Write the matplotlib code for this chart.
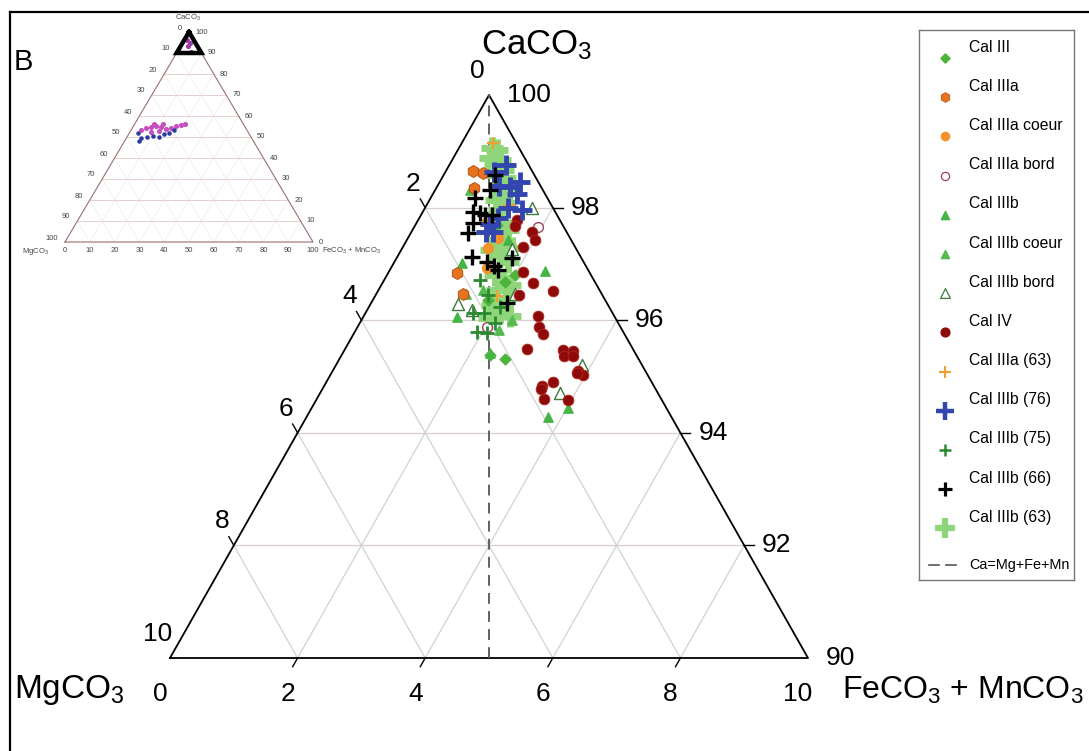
import matplotlib
matplotlib.use('Agg')
import matplotlib.pyplot as plt
import numpy as np

plt.rcParams['font.family'] = ['Liberation Sans', 'DejaVu Sans']
plt.rcParams['mathtext.fontset'] = 'custom'
plt.rcParams['mathtext.rm'] = 'Liberation Sans'
plt.rcParams['mathtext.it'] = 'Liberation Sans:italic'

# --- data: CaCO3 (%) and FeCO3+MnCO3 (%) for each group, MgCO3 is the rest ---
cal3_ca = [95.31, 95.38, 96.68, 96.80, 97.69, 96.36]
cal3_fe = [2.60, 2.33, 1.91, 2.01, 1.28, 1.80]

cal3a_ca = [98.65, 98.61, 98.35, 96.84, 96.47]
cal3a_fe = [0.42, 0.60, 0.59, 1.08, 1.36]

cal3a_coeur_ca = [97.46, 97.28, 96.93, 97.75]
cal3a_coeur_fe = [1.41, 1.34, 1.50, 1.10]

cal3a_bord_ca = [97.66, 95.88]
cal3a_bord_fe = [1.94, 2.03]

cal3b_ca = [97.02, 96.87, 96.06, 95.42, 97.42, 94.28, 94.44]
cal3b_fe = [1.07, 2.44, 1.47, 2.31, 1.59, 3.78, 4.02]

cal3b_coeur_ca = [98.31, 96.00, 95.83, 96.54, 96.47]
cal3b_coeur_fe = [0.55, 2.36, 2.24, 1.64, 1.40]

cal3b_bord_ca = [97.99, 97.27, 96.29, 96.18, 96.47, 95.20, 94.71]
cal3b_bord_fe = [1.68, 1.73, 1.37, 1.64, 2.17, 3.86, 3.76]

cal4_ca = [97.78, 97.67, 97.57, 97.42, 97.30, 96.86, 96.66, 96.52, 96.45, 96.08,
           95.88, 95.76, 95.49, 95.47, 95.45, 95.36, 95.36, 95.10, 95.03, 95.06,
           94.83, 94.90, 94.78, 94.60, 94.58]
cal4_fe = [1.55, 1.57, 1.89, 2.01, 1.88, 2.10, 2.36, 2.74, 2.25, 2.73,
           2.84, 2.97, 2.85, 3.42, 3.59, 3.49, 3.63, 3.85, 3.96, 3.85,
           3.41, 3.55, 3.42, 3.56, 3.95]

cal3a_63_ca = [99.15, 98.05, 96.43]
cal3a_63_fe = [0.49, 1.29, 1.91]

cal3b_76_ca = [98.63, 98.76, 98.37, 98.45, 98.24, 97.96, 97.99, 97.82, 97.71, 97.57, 97.57, 98.38]
cal3b_76_fe = [0.76, 0.89, 1.15, 1.26, 1.32, 1.54, 1.30, 1.23, 1.16, 1.17, 1.28, 0.97]

cal3b_75_ca = [96.71, 96.13, 96.13, 95.95, 95.79, 95.77, 96.23, 96.45]
cal3b_75_fe = [1.50, 1.68, 1.86, 2.12, 1.92, 2.08, 2.06, 1.76]

cal3b_66_ca = [98.17, 98.31, 97.92, 97.90, 97.87, 97.87, 97.73, 97.55, 97.12, 97.03,
               96.96, 96.89, 97.10, 96.31, 98.58]
cal3b_66_fe = [0.70, 0.86, 0.79, 0.91, 1.00, 1.11, 0.88, 0.90, 1.17, 1.45,
               1.60, 1.70, 1.81, 2.13, 0.80]

cal3b_63_ca = [99.06, 99.02, 98.88, 98.85, 98.76, 98.67, 98.58, 98.53, 98.40, 98.31,
               98.21, 98.13, 98.08, 97.96, 97.75, 97.69, 97.60, 97.42, 97.34, 97.25,
               97.28, 97.16, 97.03, 96.80, 96.71, 96.63, 96.54, 96.39, 96.27, 96.15,
               96.08, 96.04]
cal3b_63_fe = [0.52, 0.61, 0.58, 0.75, 0.71, 0.88, 0.84, 0.99, 0.97, 1.13,
               1.10, 1.04, 1.21, 1.18, 1.18, 1.37, 1.50, 1.43, 1.58, 1.41,
               1.72, 1.59, 1.78, 1.69, 1.86, 2.01, 1.86, 2.07, 1.91, 2.10,
               2.29, 1.98]

# small overview diagram (full 0-100 ternary)
ov_pink_ca = [53.3, 54.3, 54.8, 55.3, 54.8, 52.4, 52.9, 53.8, 54.3, 55.3, 55.7, 56.2, 56.2, 56.2]
ov_pink_fe = [3.9, 5.5, 7.3, 9.1, 11.3, 8.5, 11.5, 13.8, 15.5, 17.2, 18.9, 20.3, 7.8, 11.4]
ov_blue_ca = [51.9, 49.5, 50.0, 50.5, 50.0, 51.4, 51.9, 53.3, 48.1]
ov_blue_fe = [3.4, 5.9, 8.1, 10.3, 12.9, 14.2, 15.9, 17.3, 5.7]
ov_top_ca = [96.2, 94.8, 93.3, 90.5]
ov_top_fe = [1.1, 3.0, 2.9, 5.6]

main_ticks = [0, 2, 4, 6, 8, 10]
ov_ticks = list(range(0, 101, 10))


def tern(ca, fe):
    # zoomed ternary: CaCO3 90-100 at the apex
    t = (np.asarray(ca) - 90) / 10.0
    f = np.asarray(fe) / 10.0
    return f + t / 2, t


def tern_full(ca, fe):
    t = np.asarray(ca) / 100.0
    f = np.asarray(fe) / 100.0
    return f + t / 2, t


W, H = 1089, 751
fig = plt.figure(figsize=(W / 100, H / 100), dpi=100)
fig.patch.set_facecolor('white')


def ftext(x, y, s, **kw):
    fig.text(x / W, 1 - y / H, s, **kw)


# frame of the panel
fig.add_artist(plt.Line2D([10 / W, 10 / W], [0, 1 - 12 / H], color='black', lw=1.6, transform=fig.transFigure))
fig.add_artist(plt.Line2D([10 / W, 1], [1 - 12 / H, 1 - 12 / H], color='black', lw=1.6, transform=fig.transFigure))
ftext(14, 62, 'B', fontsize=21, va='center', ha='left')

# ---------------- main ternary ----------------
PX0, PY0, PW, PH = 170, 95, 638, 563
ax = fig.add_axes([PX0 / W, 1 - (PY0 + PH) / H, PW / W, PH / H])
ax.set_xlim(0, 1)
ax.set_ylim(0, 1)
ax.axis('off')

gcol = '#d2d2d2'
for v in [2, 4, 6, 8]:
    x, y = tern([100 - v, 100 - v], [0, v])
    ax.plot(x, y, color='#d8cdcd', lw=0.9, zorder=1)
    x, y = tern([90, 100 - v], [v, v])
    ax.plot(x, y, color=gcol, lw=0.9, zorder=1)
    x, y = tern([100 - v, 90], [0, 10 - v])
    ax.plot(x, y, color=gcol, lw=0.9, zorder=1)

ax.plot([0, 0.5, 1, 0], [0, 1, 0, 0], color='black', lw=1.3, zorder=2, clip_on=False)
ax.plot([0.5, 0.5], [0, 1], color='#555555', lw=1.3, ls=(0, (6, 4)), zorder=2)

tl = 10.0
tfs = 19
for m in main_ticks:
    # left side: MgCO3
    x, y = tern(100 - m, 0)
    if 0 < m < 10:
        ax.plot([x, x - 0.493 * tl / PW], [y, y + 0.870 * tl / PH], color='black', lw=1.0, clip_on=False)
    ax.text(x - 12 / PW, y + 24 / PH, str(m), fontsize=tfs, ha='center', va='center')
    # bottom: FeCO3 + MnCO3
    x, y = tern(90, m)
    if 0 < m < 10:
        ax.plot([x, x - 0.493 * tl / PW], [y, y - 0.870 * tl / PH], color='black', lw=1.0, clip_on=False)
    ax.text(x - 10 / PW, y - 36 / PH, str(m), fontsize=tfs, ha='center', va='center')
    # right side: CaCO3
    x, y = tern(100 - m, m)
    if 0 < m < 10:
        ax.plot([x, x + tl / PW], [y, y], color='black', lw=1.0, clip_on=False)
    ax.text(x + 18 / PW, y, str(100 - m), fontsize=tfs, ha='left', va='center')

# data
ax.scatter(*tern(cal3b_63_ca, cal3b_63_fe), marker='+', s=230, color='#8fd67a', linewidths=5, zorder=3)
ax.scatter(*tern(cal3_ca, cal3_fe), marker='D', s=30, color='#4fb43c', zorder=4)
ax.scatter(*tern(cal3b_ca, cal3b_fe), marker='^', s=45, color='#45b445', zorder=4)
ax.scatter(*tern(cal3b_coeur_ca, cal3b_coeur_fe), marker='^', s=45, color='#55bb50', zorder=4)
ax.scatter(*tern(cal3b_bord_ca, cal3b_bord_fe), marker='^', s=75, facecolors='white',
           edgecolors='#3d7a3d', linewidths=1.0, zorder=4)
ax.scatter(*tern(cal3a_ca, cal3a_fe), marker='h', s=75, color='#e8731e', edgecolors='#b04a10',
           linewidths=0.6, zorder=5)
ax.scatter(*tern(cal3a_coeur_ca, cal3a_coeur_fe), marker='o', s=50, color='#f3922a', zorder=5)
ax.scatter(*tern(cal3a_bord_ca, cal3a_bord_fe), marker='o', s=50, facecolors='white',
           edgecolors='#9a4458', linewidths=1.0, zorder=5)
ax.scatter(*tern(cal4_ca, cal4_fe), marker='o', s=60, color='#8e0a0a', edgecolors='#b02a20',
           linewidths=0.6, zorder=5)
ax.scatter(*tern(cal3a_63_ca, cal3a_63_fe), marker='+', s=80, color='#f0a030', linewidths=1.6, zorder=6)
ax.scatter(*tern(cal3b_76_ca, cal3b_76_fe), marker='+', s=190, color='#3346b0', linewidths=3.5, zorder=6)
ax.scatter(*tern(cal3b_75_ca, cal3b_75_fe), marker='+', s=95, color='#2a8a30', linewidths=2.0, zorder=6)
ax.scatter(*tern(cal3b_66_ca, cal3b_66_fe), marker='+', s=130, color='black', linewidths=2.4, zorder=6)

ftext(537, 45, r'CaCO$_3$', fontsize=25, ha='center', va='center')
ftext(14, 690, r'MgCO$_3$', fontsize=24, ha='left', va='center')
ftext(1084, 690, r'FeCO$_3$ + MnCO$_3$', fontsize=23, ha='right', va='center')

# ---------------- overview inset ----------------
IX0, IY0, IW, IH = 65, 32, 248, 210
ax2 = fig.add_axes([IX0 / W, 1 - (IY0 + IH) / H, IW / W, IH / H])
ax2.set_xlim(0, 1)
ax2.set_ylim(0, 1)
ax2.axis('off')
for v in range(10, 100, 10):
    x, y = tern_full([100 - v, 100 - v], [0, v])
    ax2.plot(x, y, color='#e2c8c8', lw=0.6, zorder=1)
    x, y = tern_full([0, 100 - v], [v, v])
    ax2.plot(x, y, color='#ececec', lw=0.5, zorder=1)
    x, y = tern_full([100 - v, 0], [0, 100 - v])
    ax2.plot(x, y, color='#ececec', lw=0.5, zorder=1)
ax2.plot([0, 0.5, 1, 0], [0, 1, 0, 0], color='#9a6f6f', lw=0.8, clip_on=False, zorder=2)
sfs = 5.5
for v in ov_ticks:
    x, y = tern_full(100 - v, 0)
    ax2.text(x - 7 / IW, y + 4 / IH, str(v), fontsize=sfs, color='#444444', ha='right', va='center')
    x, y = tern_full(100 - v, v)
    ax2.text(x + 6 / IW, y, str(100 - v), fontsize=sfs, color='#444444', ha='left', va='center')
    x, y = tern_full(0, v)
    ax2.text(x, y - 9 / IH, str(v), fontsize=sfs, color='#444444', ha='center', va='center')
ax2.scatter(*tern_full(ov_pink_ca, ov_pink_fe), s=7, color='#c64fc0', zorder=3)
ax2.scatter(*tern_full(ov_blue_ca, ov_blue_fe), s=5, color='#2b3aa0', zorder=3)
ax2.scatter(*tern_full(ov_top_ca, ov_top_fe), s=7, color='#a03aa8', zorder=3)
x, y = tern_full([100, 90, 90, 100], [0, 0, 10, 0])
ax2.plot(x, y, color='black', lw=3.2, solid_joinstyle='miter', clip_on=False, zorder=4)
ftext(188, 18, r'CaCO$_3$', fontsize=5.5, color='#444444', ha='center', va='center')
ftext(22, 251, r'MgCO$_3$', fontsize=5.5, color='#444444', ha='left', va='center')
ftext(322, 251, r'FeCO$_3$ + MnCO$_3$', fontsize=5.5, color='#444444', ha='left', va='center')

# ---------------- legend ----------------
lax = fig.add_axes([919 / W, 1 - 580 / H, 155 / W, 550 / H])
lax.set_xlim(919, 1074)
lax.set_ylim(580, 30)
lax.set_xticks([])
lax.set_yticks([])
for sp in lax.spines.values():
    sp.set_color('#777777')
    sp.set_linewidth(1.0)

leg_names = ['Cal III', 'Cal IIIa', 'Cal IIIa coeur', 'Cal IIIa bord', 'Cal IIIb', 'Cal IIIb coeur',
             'Cal IIIb bord', 'Cal IV', 'Cal IIIa (63)', 'Cal IIIb (76)', 'Cal IIIb (75)',
             'Cal IIIb (66)', 'Cal IIIb (63)']
leg_styles = [
    dict(marker='D', s=22, color='#4fb43c'),
    dict(marker='h', s=50, color='#e8731e', edgecolors='#b04a10', linewidths=0.5),
    dict(marker='o', s=35, color='#f3922a'),
    dict(marker='o', s=35, facecolors='white', edgecolors='#9a4458', linewidths=0.9),
    dict(marker='^', s=35, color='#45b445'),
    dict(marker='^', s=35, color='#55bb50'),
    dict(marker='^', s=50, facecolors='white', edgecolors='#3d7a3d', linewidths=0.9),
    dict(marker='o', s=40, color='#8e0a0a'),
    dict(marker='+', s=70, color='#f0a030', linewidths=1.5),
    dict(marker='+', s=170, color='#3346b0', linewidths=3.2),
    dict(marker='+', s=80, color='#2a8a30', linewidths=1.8),
    dict(marker='+', s=110, color='black', linewidths=2.3),
    dict(marker='+', s=200, color='#8fd67a', linewidths=4.5),
]
for i, (name, st) in enumerate(zip(leg_names, leg_styles)):
    ty = 47 + 39.2 * i
    lax.scatter([945], [ty + 11], clip_on=False, **st)
    lax.text(969, ty, name, fontsize=11.3, ha='left', va='center')
lax.plot([929, 939], [565, 565], color='#555555', lw=1.2)
lax.plot([946, 956], [565, 565], color='#555555', lw=1.2)
lax.text(969, 565, 'Ca=Mg+Fe+Mn', fontsize=10.4, ha='left', va='center')

fig.savefig('out.png', dpi=100)
